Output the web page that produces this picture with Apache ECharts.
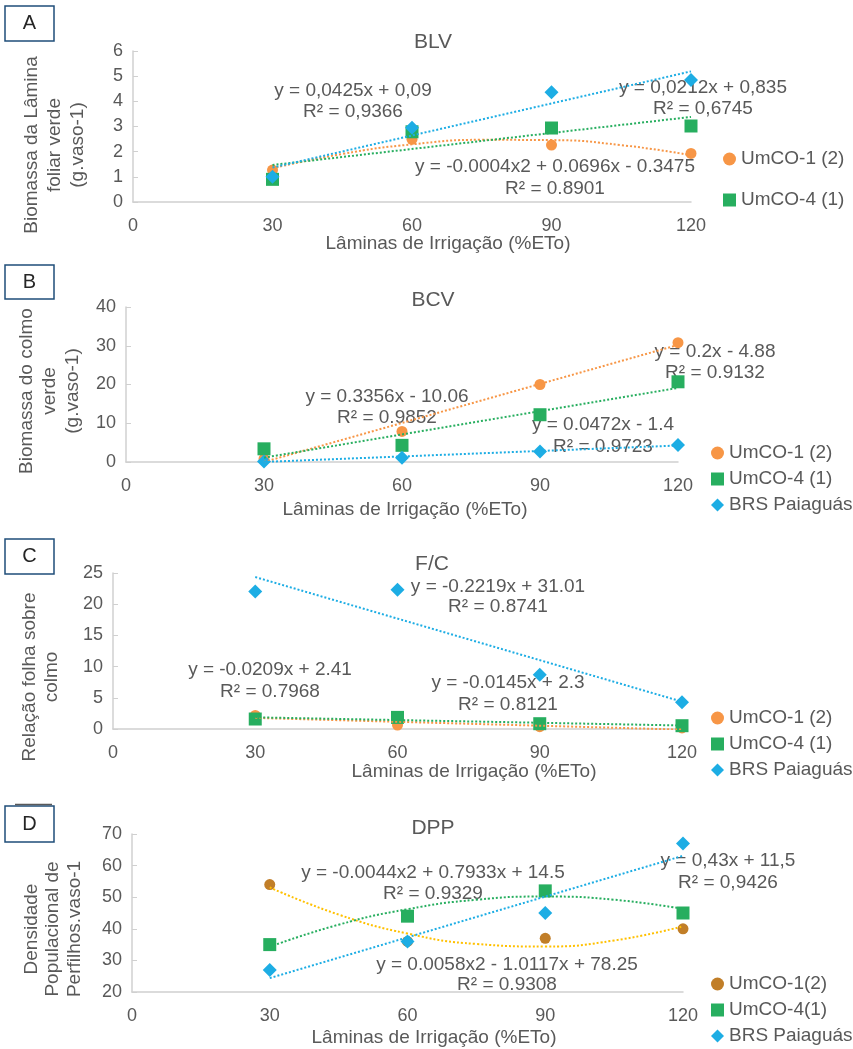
<!DOCTYPE html>
<html>
<head>
<meta charset="utf-8">
<script src="https://cdn.jsdelivr.net/npm/echarts@6/dist/echarts.min.js"></script>
<style>
html,body{margin:0;padding:0;background:#fff;}
#chart{width:853px;height:1049px;}
</style>
</head>
<body>
<div id="chart"></div>
<script>
// ---------- data ----------
const xLevels = [30, 60, 90, 120];
const xTickLabels = ['0', '30', '60', '90', '120'];
const trendEnds = [30, 120];
const trendCurveX = [30, 45, 60, 75, 90, 105, 120];

// A - BLV
const blvUmCO1 = [1.27, 2.49, 2.26, 1.93];
const blvUmCO4 = [0.9, 2.79, 2.94, 3.02];
const blvBRS = [1.0, 2.95, 4.36, 4.85];
const blvTrendUmCO1 = [1.34, 1.91, 2.29, 2.47, 2.46, 2.26, 1.86];
const blvTrendUmCO4 = [1.47, 3.38];
const blvTrendBRS = [1.37, 5.19];

// B - BCV
const bcvUmCO1 = [0.8, 7.9, 20.0, 30.8];
const bcvUmCO4 = [3.4, 4.3, 12.2, 20.7];
const bcvBRS = [0.15, 1.1, 2.7, 4.4];
const bcvTrendUmCO1 = [0.01, 30.21];
const bcvTrendUmCO4 = [1.12, 19.12];
const bcvTrendBRS = [0.02, 4.26];

// C - F/C
const fcUmCO1 = [2.18, 0.63, 0.38, 0.18];
const fcUmCO4 = [1.6, 1.86, 0.85, 0.53];
const fcBRS = [22.05, 22.3, 8.7, 4.3];
const fcTrendUmCO1 = [1.78, -0.1];
const fcTrendUmCO4 = [1.87, 0.56];
const fcTrendBRS = [24.35, 4.38];

// D - DPP
const dppUmCO1 = [54, 36, 37, 40];
const dppUmCO4 = [35, 44, 52, 45];
const dppBRS = [27, 36, 45, 67];
const dppTrendUmCO1 = [53.1, 44.5, 38.5, 35.2, 34.4, 36.3, 40.8];
const dppTrendUmCO4 = [34.3, 41.3, 46.2, 49.2, 50.2, 49.2, 46.3];
const dppTrendBRS = [24.4, 63.1];

// ---------- styling ----------
const FONT = '"Liberation Sans", Arial, sans-serif';
const TXT = '#595959';
const ORANGE = '#F79646';
const GREEN = '#27AE5F';
const BLUE = '#1DADE4';
const BROWN = '#C17E28';
const GOLD = '#FFC000';
const AXIS = '#D0D0D0';

const pairs = (xs, ys) => xs.map((x, i) => [x, ys[i]]);

const grids = [
  {left: 133, top: 51, width: 558, height: 151},
  {left: 126, top: 307, width: 552, height: 155},
  {left: 113, top: 573, width: 569, height: 156},
  {left: 132, top: 834, width: 551, height: 158}
];
const yRanges = [[0, 6, 1], [0, 40, 10], [0, 25, 5], [20, 70, 10]];

const xAxes = grids.map((g, i) => ({
  type: 'value', gridIndex: i, min: 0, max: 120, interval: 30,
  axisLine: {show: true, onZero: false, lineStyle: {color: AXIS, width: 1.5}},
  axisTick: {show: false},
  splitLine: {show: false},
  axisLabel: {color: TXT, fontSize: 18, fontFamily: FONT, margin: 15,
    formatter: v => xTickLabels[xTickLabels.indexOf(String(v))] }
}));
const yAxes = yRanges.map((r, i) => ({
  type: 'value', gridIndex: i, min: r[0], max: r[1], interval: r[2],
  axisLine: {show: true, lineStyle: {color: AXIS, width: 1.5}},
  axisTick: {show: true, inside: true, length: 5, lineStyle: {color: AXIS}},
  splitLine: {show: false},
  axisLabel: {color: TXT, fontSize: 18, fontFamily: FONT, margin: 10}
}));

function scatter(name, idx, ys, symbol, size, color) {
  return {type: 'scatter', name, xAxisIndex: idx, yAxisIndex: idx,
    data: pairs(xLevels, ys), symbol, symbolSize: size,
    itemStyle: {color, opacity: 1}, z: 2, silent: true};
}
function trend(id, idx, xs, ys, color, smooth) {
  return {type: 'line', name: id, xAxisIndex: idx, yAxisIndex: idx,
    data: pairs(xs, ys), smooth: !!smooth, symbol: 'none', showSymbol: false,
    lineStyle: {color, width: 2, type: [2, 2]}, z: 4, silent: true};
}

const series = [
  scatter('UmCO-1 (2)', 0, blvUmCO1, 'circle', 11, ORANGE),
  scatter('UmCO-4 (1)', 0, blvUmCO4, 'rect', 13, GREEN),
  scatter('BRS Paiaguás', 0, blvBRS, 'diamond', 14, BLUE),
  trend('tA1', 0, trendCurveX, blvTrendUmCO1, ORANGE, true),
  trend('tA2', 0, trendEnds, blvTrendUmCO4, GREEN),
  trend('tA3', 0, trendEnds, blvTrendBRS, BLUE),

  scatter('UmCO-1 (2)', 1, bcvUmCO1, 'circle', 11, ORANGE),
  scatter('UmCO-4 (1)', 1, bcvUmCO4, 'rect', 13, GREEN),
  scatter('BRS Paiaguás', 1, bcvBRS, 'diamond', 14, BLUE),
  trend('tB1', 1, trendEnds, bcvTrendUmCO1, ORANGE),
  trend('tB2', 1, trendEnds, bcvTrendUmCO4, GREEN),
  trend('tB3', 1, trendEnds, bcvTrendBRS, BLUE),

  scatter('UmCO-1 (2)', 2, fcUmCO1, 'circle', 11, ORANGE),
  scatter('UmCO-4 (1)', 2, fcUmCO4, 'rect', 13, GREEN),
  scatter('BRS Paiaguás', 2, fcBRS, 'diamond', 14, BLUE),
  trend('tC1', 2, trendEnds, fcTrendUmCO1, ORANGE),
  trend('tC2', 2, trendEnds, fcTrendUmCO4, GREEN),
  trend('tC3', 2, trendEnds, fcTrendBRS, BLUE),

  scatter('UmCO-1(2)', 3, dppUmCO1, 'circle', 11, BROWN),
  scatter('UmCO-4(1)', 3, dppUmCO4, 'rect', 13, GREEN),
  scatter('BRS Paiaguás', 3, dppBRS, 'diamond', 14, BLUE),
  trend('tD1', 3, trendCurveX, dppTrendUmCO1, GOLD, true),
  trend('tD2', 3, trendCurveX, dppTrendUmCO4, GREEN, true),
  trend('tD3', 3, trendEnds, dppTrendBRS, BLUE)
];

function legend(left, top, names, gap) {
  return {orient: 'vertical', left, top, data: names, itemGap: gap, padding: 0,
    itemWidth: 13, itemHeight: 13, selectedMode: false,
    textStyle: {color: TXT, fontSize: 19, fontFamily: FONT, lineHeight: 20}};
}
const legends = [
  legend(723, 149, ['UmCO-1 (2)', 'UmCO-4 (1)'], 21),
  legend(711, 443, ['UmCO-1 (2)', 'UmCO-4 (1)', 'BRS Paiaguás'], 6),
  legend(711, 708, ['UmCO-1 (2)', 'UmCO-4 (1)', 'BRS Paiaguás'], 6),
  legend(711, 974, ['UmCO-1(2)', 'UmCO-4(1)', 'BRS Paiaguás'], 6)
];

function txt(text, x, y, size, rot, lh) {
  return {type: 'text', x, y, rotation: rot || 0, silent: true,
    style: {text, fill: TXT, fontSize: size, fontFamily: FONT,
      align: 'center', verticalAlign: 'middle', textAlign: 'center', textVerticalAlign: 'middle',
      lineHeight: lh || Math.round(size * 1.15)}};
}
function box(letter, top, bottom) {
  return [
    {type: 'rect', shape: {x: 5, y: top, width: 49, height: bottom - top}, silent: true,
      style: {fill: '#fff', stroke: '#1F4E79', lineWidth: 1.5}},
    {type: 'text', x: 29.5, y: (top + bottom) / 2, silent: true,
      style: {text: letter, fill: '#262626', fontSize: 20, fontFamily: FONT,
        align: 'center', verticalAlign: 'middle', textAlign: 'center', textVerticalAlign: 'middle'}}
  ];
}
const R = Math.PI / 2;
const graphics = [].concat(
  box('A', 6, 41), box('B', 265, 299), box('C', 539, 574), box('D', 806, 842),
  [{type: 'line', shape: {x1: 15, y1: 804.5, x2: 52, y2: 804.5}, silent: true,
    style: {stroke: '#595959', lineWidth: 1.5}}],
  [
    // titles
    txt('BLV', 433, 42, 21), txt('BCV', 433, 300, 21), txt('F/C', 432, 564, 21), txt('DPP', 433, 828, 21),
    // x axis titles
    txt('Lâminas de Irrigação (%ETo)', 448, 244, 19),
    txt('Lâminas de Irrigação (%ETo)', 405, 510, 19),
    txt('Lâminas de Irrigação (%ETo)', 474, 772, 19),
    txt('Lâminas de Irrigação (%ETo)', 434, 1038, 19),
    // y axis titles
    txt('Biomassa da Lâmina\nfoliar verde\n(g.vaso-1)', 55, 145, 19, R, 23),
    txt('Biomassa do colmo\nverde\n(g.vaso-1)', 50, 391, 19, R, 23),
    txt('Relação folha sobre\ncolmo', 41, 677, 19, R, 22),
    txt('Densidade\nPopulacional de\nPerfilhos.vaso-1', 53, 929, 19, R, 21.5),
    // trendline equations A
    txt('y = 0,0425x + 0,09\nR² = 0,9366', 353, 101, 19, 0, 21),
    txt('y = 0,0212x + 0,835\nR² = 0,6745', 703, 98, 19, 0, 21),
    txt('y = -0.0004x2 + 0.0696x - 0.3475\nR² = 0.8901', 555, 178, 19, 0, 22),
    // B
    txt('y = 0.3356x - 10.06\nR² = 0.9852', 387, 407, 19, 0, 21),
    txt('y = 0.2x - 4.88\nR² = 0.9132', 715, 362.5, 19, 0, 21.5),
    txt('y = 0.0472x - 1.4\nR² = 0.9723', 603, 435.5, 19, 0, 22),
    // C
    txt('y = -0.0209x + 2.41\nR² = 0.7968', 270, 681, 19, 0, 22),
    txt('y = -0.2219x + 31.01\nR² = 0.8741', 498, 596.5, 19, 0, 20),
    txt('y = -0.0145x + 2.3\nR² = 0.8121', 508, 694, 19, 0, 22),
    // D
    txt('y = -0.0044x2 + 0.7933x + 14.5\nR² = 0.9329', 433, 883, 19, 0, 21),
    txt('y = 0,43x + 11,5\nR² = 0,9426', 728, 872, 19, 0, 22),
    txt('y = 0.0058x2 - 1.0117x + 78.25\nR² = 0.9308', 507, 975, 19, 0, 20)
  ]
);

const chart = echarts.init(document.getElementById('chart'), null, {renderer: 'canvas'});
chart.setOption({
  backgroundColor: '#fff',
  animation: false,
  textStyle: {fontFamily: FONT},
  grid: grids.map(g => Object.assign({outerBoundsMode: 'none', containLabel: false}, g)),
  xAxis: xAxes,
  yAxis: yAxes,
  legend: legends,
  series,
  graphic: {elements: graphics}
});
</script>
</body>
</html>
